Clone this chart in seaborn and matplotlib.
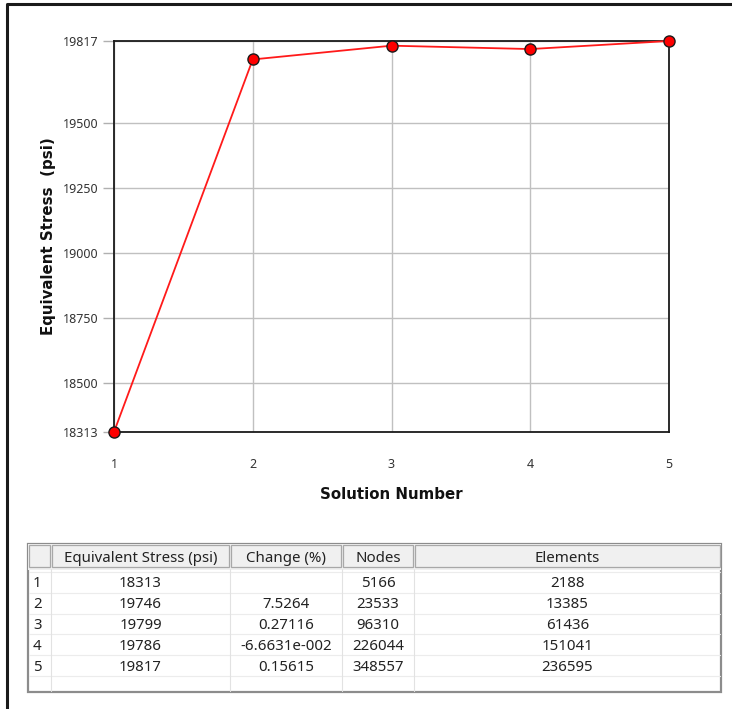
import matplotlib
matplotlib.use("Agg")
import matplotlib.pyplot as plt
from matplotlib.patches import Rectangle
import pandas as pd
import seaborn as sns

# Mesh convergence results
solution = [1, 2, 3, 4, 5]
stress = [18313, 19746, 19799, 19786, 19817]
change = ["", "7.5264", "0.27116", "-6.6631e-002", "0.15615"]
nodes = [5166, 23533, 96310, 226044, 348557]
elements = [2188, 13385, 61436, 151041, 236595]
y_ticks = [18313, 18500, 18750, 19000, 19250, 19500, 19817]
headers = ["", "Equivalent Stress (psi)", "Change (%)", "Nodes", "Elements"]

sns.set_theme(style="white")
plt.rcParams["font.family"] = ["Noto Sans", "DejaVu Sans"]
BOLD = ["DejaVu Sans"]

W, H = 732, 709
fig = plt.figure(figsize=(W / 100, H / 100), dpi=100)

def frac_box(x0, y0, x1, y1):
    return [x0 / W, 1 - y1 / H, (x1 - x0) / W, (y1 - y0) / H]

# Overlay in pixel coordinates for the frame and the results table
over = fig.add_axes([0, 0, 1, 1])
over.set_xlim(0, W)
over.set_ylim(H, 0)
over.axis("off")
over.plot([7, 7, W + 5], [H + 5, 4, 4], color="#1a1a1a", lw=2.2, solid_capstyle="butt")

# Convergence chart
ax = fig.add_axes(frac_box(114, 41, 669, 432))
df = pd.DataFrame({"Solution": solution, "Stress": stress})
sns.lineplot(data=df, x="Solution", y="Stress", ax=ax, color="#ff1a1a", lw=1.3,
             marker="o", markersize=8, markerfacecolor="#ff0000",
             markeredgecolor="#1a1a1a", markeredgewidth=1.0, clip_on=False, zorder=5)
ax.set_xlim(1, 5)
ax.set_ylim(y_ticks[0], y_ticks[-1])
ax.set_xticks(solution)
ax.set_yticks(y_ticks)
ax.set_xticklabels([str(s) for s in solution])
ax.set_yticklabels([str(t) for t in y_ticks])
ax.grid(True, color="#c0c0c0", lw=1.0)
ax.tick_params(axis="y", which="both", left=True, length=8, width=1.0,
               color="#b0b0b0", labelsize=9, labelcolor="#333333", pad=3)
ax.tick_params(axis="x", which="both", bottom=False, labelsize=9,
               labelcolor="#333333", pad=13)
for s in ax.spines.values():
    s.set_color("#1a1a1a")
    s.set_linewidth(1.3)
ax.set_xlabel("Solution Number", fontsize=10.8, fontweight="bold", family=BOLD,
              color="#111111", labelpad=11)
ax.set_ylabel("Equivalent Stress  (psi)", fontsize=10.8, fontweight="bold", family=BOLD,
              color="#111111", labelpad=5)

# Results table
tx0, tx1, ty0, ty1 = 28, 721, 544, 692
col_edges = [28, 51, 230, 342, 414, 721]
head_bottom = 568
row_h = 20.8
body_top = 572
TFS = 10.8

over.add_patch(Rectangle((tx0, ty0), tx1 - tx0, ty1 - ty0, facecolor="white",
                         edgecolor="#8c8c8c", lw=1.6, zorder=1))
over.add_patch(Rectangle((tx0, ty0), tx1 - tx0, head_bottom - ty0 + 2,
                         facecolor="#f0f0f0", edgecolor="none", zorder=2))
for i in range(len(headers)):
    a, b = col_edges[i], col_edges[i + 1]
    over.add_patch(Rectangle((a + 1, ty0 + 1), b - a - 2, head_bottom - ty0 - 2,
                             facecolor="#f0f0f0", edgecolor="#a8a8a8", lw=0.9, zorder=3))
    over.text((a + b) / 2, (ty0 + head_bottom) / 2 + 2.5, headers[i], ha="center", va="center",
              fontsize=TFS, color="#222222", zorder=4)

rows = [[str(i), str(s), c, str(n), str(e)]
        for i, s, c, n, e in zip(solution, stress, change, nodes, elements)]
n_rows = len(rows) + 1
for k in range(n_rows + 1):
    y = body_top + k * row_h
    if y < ty1:
        over.plot([tx0 + 1, tx1 - 1], [y, y], color="#ececec", lw=0.8, zorder=2)
for x in col_edges[1:-1]:
    over.plot([x, x], [head_bottom + 1, ty1 - 1], color="#e2e2e2", lw=0.8, zorder=2)

for r, vals in enumerate(rows):
    yc = body_top + (r + 0.5) * row_h + 1.5
    for i, v in enumerate(vals):
        a, b = col_edges[i], col_edges[i + 1]
        if i == 0:
            over.text(a + 5, yc, v, ha="left", va="center", fontsize=TFS,
                      color="#222222", zorder=4)
        else:
            over.text((a + b) / 2, yc, v, ha="center", va="center", fontsize=TFS,
                      color="#222222", zorder=4)

fig.savefig("out.png", dpi=100)
